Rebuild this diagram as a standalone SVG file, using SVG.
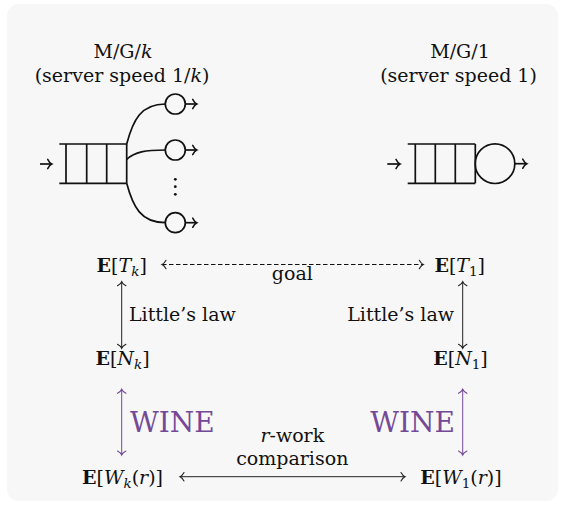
<svg xmlns="http://www.w3.org/2000/svg" width="563" height="506" viewBox="0 0 563 506">
  <style>
    text { font-family: "DejaVu Serif", serif; font-size: 19px; fill: #111; }
    .c { text-anchor: middle; }
    .s { text-anchor: start; }
    .e { text-anchor: end; }
    .bf { font-weight: bold; }
    .it { font-style: italic; }
    .sub { font-size: 13.5px; font-style: italic; }
    .subn { font-size: 13.5px; font-style: normal; }
    .q { fill: none; stroke: #111; stroke-width: 1.7; }
    .a { fill: none; stroke: #222; stroke-width: 1; }
    .dash { stroke-dasharray: 4.5 2.5; stroke: #111; }
    .wine { stroke: #744a98; }
    .wt { fill: #744a98; font-size: 28px; }
  </style>
  <defs>
    <marker id="tip" markerUnits="userSpaceOnUse" markerWidth="12" markerHeight="12" viewBox="-6 -6 12 12" refX="0" refY="0" orient="auto-start-reverse">
      <path d="M-4,-4.2 C-2.6,-1.6 -1,-0.4 0,0 C-1,0.4 -2.6,1.6 -4,4.2" fill="none" stroke="#222" stroke-width="1.1" stroke-linecap="round"/>
    </marker>
    <marker id="tipq" markerUnits="userSpaceOnUse" markerWidth="12" markerHeight="12" viewBox="-6 -6 12 12" refX="0" refY="0" orient="auto-start-reverse">
      <path d="M-4,-4.6 C-2.6,-1.8 -1,-0.4 0,0 C-1,0.4 -2.6,1.8 -4,4.6" fill="none" stroke="#111" stroke-width="1.5" stroke-linecap="round"/>
    </marker>
    <marker id="tipw" markerUnits="userSpaceOnUse" markerWidth="12" markerHeight="12" viewBox="-6 -6 12 12" refX="0" refY="0" orient="auto-start-reverse">
      <path d="M-4,-4.2 C-2.6,-1.6 -1,-0.4 0,0 C-1,0.4 -2.6,1.6 -4,4.2" fill="none" stroke="#744a98" stroke-width="1.1" stroke-linecap="round"/>
    </marker>
  </defs>

  <!-- panel -->
  <rect x="7" y="4" width="551" height="497" rx="12" fill="#f7f7f7"/>

  <!-- M/G/k system -->
  <g id="mgk">
    <text class="c" x="123" y="58">M/G/<tspan class="it">k</tspan></text>
    <text class="c" x="122" y="82">(server speed 1/<tspan class="it">k</tspan>)</text>
    <path class="q" marker-end="url(#tipq)" d="M40,164 H51.7"/>
    <path class="q" d="M59.3,144 H126.7 M59.3,183.3 H126.7 M66,144 V183.3 M86.7,144 V183.3 M106.7,144 V183.3 M126.7,144 V183.3"/>
    <path class="q" d="M126.7,144 C133,120 141,104 165.3,104"/>
    <path class="q" d="M126.7,159.3 C135,152 145,150 165.3,150"/>
    <path class="q" d="M126.7,183.3 C133,207 141,222.7 165.3,222.7"/>
    <circle class="q" cx="175.3" cy="104" r="10"/>
    <circle class="q" cx="175.3" cy="150" r="10"/>
    <circle class="q" cx="175.3" cy="222.7" r="10"/>
    <path class="q" marker-end="url(#tipq)" d="M185.3,104 H196.7"/>
    <path class="q" marker-end="url(#tipq)" d="M185.3,150 H196.7"/>
    <path class="q" marker-end="url(#tipq)" d="M185.3,222.7 H196.7"/>
    <circle cx="175.3" cy="179.3" r="1.4" fill="#111"/>
    <circle cx="175.3" cy="186.7" r="1.4" fill="#111"/>
    <circle cx="175.3" cy="194.3" r="1.4" fill="#111"/>
  </g>

  <!-- M/G/1 system -->
  <g id="mg1">
    <text class="c" x="460" y="58">M/G/1</text>
    <text class="c" x="458.5" y="82">(server speed 1)</text>
    <path class="q" marker-end="url(#tipq)" d="M387.3,164 H400"/>
    <path class="q" d="M407.7,144 H475.3 M407.7,183.3 H475.3 M415.3,144 V183.3 M435.3,144 V183.3 M455.3,144 V183.3 M475.3,144 V183.3"/>
    <circle class="q" cx="495" cy="163.7" r="19.8"/>
    <path class="q" marker-end="url(#tipq)" d="M514.8,163.7 H526.7"/>
  </g>

  <!-- quantities -->
  <g id="Tk"><text class="c" x="121.7" y="271.5"><tspan class="bf">E</tspan>[<tspan class="it">T</tspan><tspan class="sub" dy="4">k</tspan><tspan dy="-4">]</tspan></text></g>
  <g id="T1"><text class="c" x="459.7" y="271.5"><tspan class="bf">E</tspan>[<tspan class="it">T</tspan><tspan class="subn" dy="4">1</tspan><tspan dy="-4">]</tspan></text></g>
  <g id="Nk"><text class="c" x="122.5" y="365"><tspan class="bf">E</tspan>[<tspan class="it">N</tspan><tspan class="sub" dy="4">k</tspan><tspan dy="-4">]</tspan></text></g>
  <g id="N1"><text class="c" x="460.5" y="365"><tspan class="bf">E</tspan>[<tspan class="it">N</tspan><tspan class="subn" dy="4">1</tspan><tspan dy="-4">]</tspan></text></g>
  <g id="Wk"><text class="c" x="122.5" y="484"><tspan class="bf">E</tspan>[<tspan class="it">W</tspan><tspan class="sub" dy="4">k</tspan><tspan dy="-4">(</tspan><tspan class="it">r</tspan>)]</text></g>
  <g id="W1"><text class="c" x="461" y="484"><tspan class="bf">E</tspan>[<tspan class="it">W</tspan><tspan class="subn" dy="4">1</tspan><tspan dy="-4">(</tspan><tspan class="it">r</tspan>)]</text></g>

  <!-- connectors -->
  <g id="connectors">
    <path class="a dash" marker-start="url(#tip)" marker-end="url(#tip)" d="M162,264.5 H423.3"/>
    <text class="c" x="292.3" y="280">goal</text>

    <path class="a" marker-start="url(#tip)" marker-end="url(#tip)" d="M121.7,281.7 V348.3"/>
    <text class="s" x="129" y="321">Little’s law</text>
    <path class="a" marker-start="url(#tip)" marker-end="url(#tip)" d="M462.7,281.7 V348.3"/>
    <text class="e" x="454" y="321">Little’s law</text>

    <path class="a wine" marker-start="url(#tipw)" marker-end="url(#tipw)" d="M121.7,389.3 V455"/>
    <text class="s wt" x="130" y="431.5">WINE</text>
    <path class="a wine" marker-start="url(#tipw)" marker-end="url(#tipw)" d="M462.7,389.3 V455"/>
    <text class="e wt" x="455" y="431.5">WINE</text>

    <path class="a" marker-start="url(#tip)" marker-end="url(#tip)" d="M180,476.7 H405"/>
    <text class="c" x="292.3" y="441.5"><tspan class="it">r</tspan>-work</text>
    <text class="c" x="292.3" y="465">comparison</text>
  </g>
</svg>
